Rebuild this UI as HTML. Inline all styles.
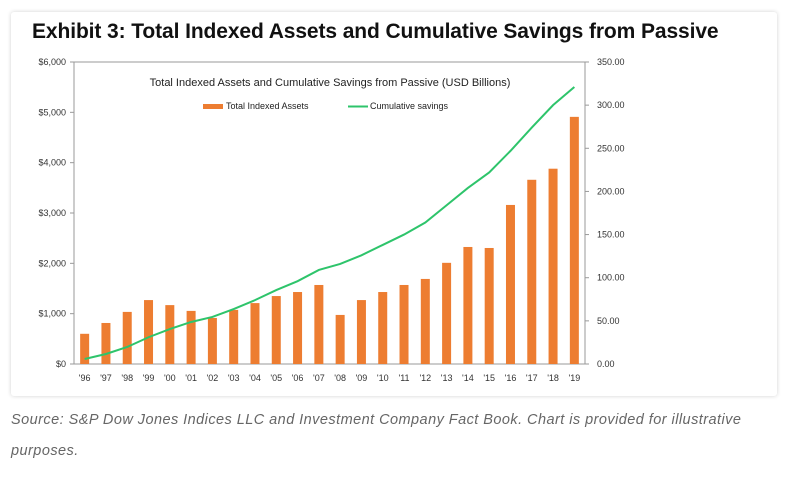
<!DOCTYPE html>
<html><head><meta charset="utf-8"><style>
body{margin:0;background:#fff;width:793px;height:477px;overflow:hidden;font-family:"Liberation Sans",sans-serif}
#card{position:absolute;left:11px;top:12px;width:766px;height:384px;background:#fff;box-shadow:0 0 4px rgba(0,0,0,.18);border-radius:3px}
#title{position:absolute;left:32px;top:20px;font-size:21px;font-weight:bold;color:#111;letter-spacing:-0.1px}
#src{position:absolute;left:11px;top:405px;width:745px;font-size:14.5px;font-style:italic;color:#666;line-height:31px;letter-spacing:0.45px}
svg{position:absolute;left:0;top:0}
</style></head><body>
<div id="card"></div>
<div id="title">Exhibit 3: Total Indexed Assets and Cumulative Savings from Passive</div>
<svg id="chart" width="793" height="477"></svg>
<div id="src">Source: S&amp;P Dow Jones Indices LLC and Investment Company Fact Book. Chart is provided for illustrative purposes.</div>
<script>
const categories=["'96","'97","'98","'99","'00","'01","'02","'03","'04","'05","'06","'07","'08","'09","'10","'11","'12","'13","'14","'15","'16","'17","'18","'19"];
const assets=[600,815,1035,1270,1170,1055,915,1075,1210,1350,1430,1570,975,1270,1430,1570,1690,2010,2325,2305,3160,3660,3880,4910];
const savings=[5.8,11.6,19.7,31,40.5,48.7,54.5,63.7,74,85.7,96,109,116,126,138,150,164,184,204,222,247,274,300,321];
const leftTicks=[0,1000,2000,3000,4000,5000,6000];
const leftLabels=["$0","$1,000","$2,000","$3,000","$4,000","$5,000","$6,000"];
const rightTicks=[0,50,100,150,200,250,300,350];
const rightLabels=["0.00","50.00","100.00","150.00","200.00","250.00","300.00","350.00"];
const svg=document.getElementById('chart');const NS='http://www.w3.org/2000/svg';
const X0=74,X1=585,Y0=364,Y1=62;
const bw=(X1-X0)/categories.length;
const xc=i=>X0+bw*(i+0.5);
const yL=v=>Y0-(v/6000)*(Y0-Y1);
const yR=v=>Y0-(v/350)*(Y0-Y1);
function el(t,a,txt){const e=document.createElementNS(NS,t);for(const k in a)e.setAttribute(k,a[k]);if(txt!=null)e.textContent=txt;svg.appendChild(e);return e;}
let e;
e=el('rect',{x:X0,y:Y1,width:X1-X0,height:Y0-Y1,fill:'none',stroke:'#999','stroke-width':1});


leftTicks.forEach((v,i)=>{
 e=el('line',{x1:X0-4,x2:X0,y1:yL(v),y2:yL(v),stroke:'#999'});
 
 
 e=el('text',{x:X0-8,y:yL(v)+3,'font-size':9,'text-anchor':'end',fill:'#333'},leftLabels[i]);
 
 
});
rightTicks.forEach((v,i)=>{
 e=el('line',{x1:X1,x2:X1+4,y1:yR(v),y2:yR(v),stroke:'#999'});
 
 
 e=el('text',{x:X1+12,y:yR(v)+3,'font-size':9,fill:'#333'},rightLabels[i]);
 
 
});
categories.forEach((c,i)=>{
 e=el('rect',{x:xc(i)-4.5,y:yL(assets[i]),width:9,height:Y0-yL(assets[i]),fill:'#ed7d31'});
 
 
 e=el('text',{x:xc(i),y:Y0+17,'font-size':9,'text-anchor':'middle',fill:'#333'},c);
 
 
});
e=el('polyline',{points:savings.map((v,i)=>xc(i)+','+yR(v)).join(' '),fill:'none',stroke:'#2ec46b','stroke-width':2});


e=el('text',{x:330,y:86,'font-size':11,'text-anchor':'middle',fill:'#222'},'Total Indexed Assets and Cumulative Savings from Passive (USD Billions)');


e=el('rect',{x:203,y:104,width:20,height:5,fill:'#ed7d31'});


e=el('text',{x:226,y:109,'font-size':9,fill:'#222'},'Total Indexed Assets');


e=el('line',{x1:348,x2:368,y1:106.5,y2:106.5,stroke:'#2ec46b','stroke-width':2});


e=el('text',{x:370,y:109,'font-size':9,fill:'#222'},'Cumulative savings');


</script>
</body></html>
